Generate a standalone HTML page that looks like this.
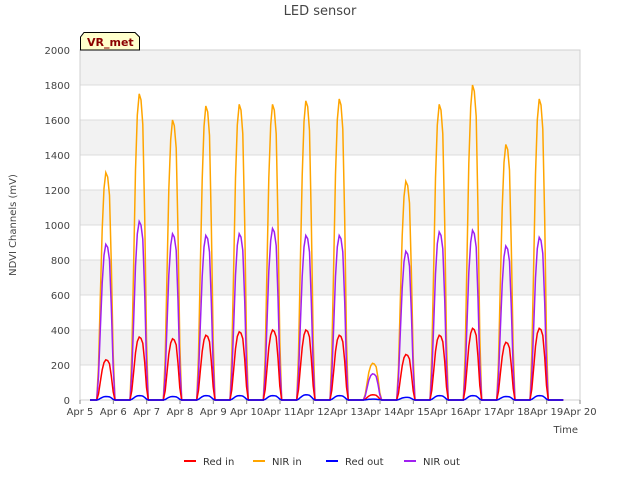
<!DOCTYPE html>
<html><head><meta charset="utf-8"><style>
body{margin:0;background:#fff;font-family:"Liberation Sans","DejaVu Sans",sans-serif}
svg text{font-family:"DejaVu Sans","Liberation Sans",sans-serif}
</style></head><body>
<svg id="c" width="640" height="480" xmlns="http://www.w3.org/2000/svg">
<text x="320" y="15" text-anchor="middle" font-size="13" fill="#444">LED sensor</text>
<g id="bands"></g><g id="grid"></g><g id="series"></g><g id="axes"></g>
<g>
<path d="M80.5,50 L80.5,37 L84,32.5 L135,32.5 L139.5,37 L139.5,50 Z" fill="#ffffcc" stroke="#000"/>
<text x="87" y="46" font-size="11" font-weight="bold" fill="#8b0000">VR_met</text></g>
<text x="16" y="225" font-size="10" fill="#444" text-anchor="middle" transform="rotate(-90 16 225)">NDVI Channels (mV)</text>
<text x="578" y="433" font-size="10" fill="#444" text-anchor="end">Time</text>
<g id="legend"></g>
</svg>
<script>
const days=[5,6,7,8,9,10,11,12,13,14,15,16,17,18];
const nirIn=[1300,1750,1600,1680,1690,1690,1710,1720,210,1250,1690,1800,1460,1720];
const redIn=[230,360,350,370,390,400,400,370,30,260,370,410,330,410];
const redOut=[20,25,20,25,25,25,30,25,5,15,25,25,20,25];
const nirOut=[890,1020,950,940,950,980,940,940,150,850,960,970,880,930];
const profile=[0,0.15,0.45,0.75,0.93,1,0.98,0.9,0.6,0.2,0];
const yTicks=[0,200,400,600,800,1000,1200,1400,1600,1800,2000];
const xTicks=["Apr 5","Apr 6","Apr 7","Apr 8","Apr 9","Apr 10","Apr 11","Apr 12","Apr 13","Apr 14","Apr 15","Apr 16","Apr 17","Apr 18","Apr 19","Apr 20"];
const NS="http://www.w3.org/2000/svg";
const X0=80,X1=580,Y0=400,Y1=50;
const xs=d=>X0+(d-5)/15*(X1-X0);
const ys=v=>Y0-v/2000*(Y0-Y1);
function mk(t,a,p){const e=document.createElementNS(NS,t);for(const k in a)e.setAttribute(k,a[k]);p.appendChild(e);return e;}
const bands=document.getElementById('bands'),grid=document.getElementById('grid'),axes=document.getElementById('axes'),ser=document.getElementById('series');
mk('rect',{x:X0,y:Y1,width:X1-X0,height:Y0-Y1,fill:'#fff'},bands);
for(let i=1;i<yTicks.length;i+=2){const r=mk('rect',{x:X0,y:ys(yTicks[i+1]===undefined?yTicks[i]:yTicks[i+1]),width:X1-X0,height:ys(yTicks[i])-ys(yTicks[i+1]),fill:'#f2f2f2'},bands);

}
yTicks.forEach(v=>{const l=mk('line',{x1:X0,x2:X1,y1:ys(v),y2:ys(v),stroke:'#dcdcdc'},grid);


const t=mk('text',{x:X0-10,y:ys(v)+4,'text-anchor':'end','font-size':10,fill:'#444'},axes);t.textContent=v;

});
mk('rect',{x:X0,y:Y1,width:X1-X0,height:Y0-Y1,fill:'none',stroke:'#d0d0d0'},grid);
xTicks.forEach((s,i)=>{const x=xs(5+i);mk('line',{x1:x,x2:x,y1:Y0,y2:Y0+4,stroke:'#888'},axes);
const t=mk('text',{x:x,y:Y0+15,'text-anchor':'middle','font-size':10,fill:'#444'},axes);t.textContent=s;

});
function draw(vals,color,name){let d='M'+xs(5.3)+','+ys(0);
days.forEach((day,i)=>{profile.forEach((p,j)=>{const t=day+0.5+j*0.55/(profile.length-1);d+=' L'+xs(t).toFixed(1)+','+ys(vals[i]*p).toFixed(1);});});
d+=' L'+xs(19.5)+','+ys(0);
const p=mk('path',{d:d,fill:'none',stroke:color,'stroke-width':1.5},ser);

}
draw(nirIn,'#ffa500','nir-in-line');draw(nirOut,'#a020f0','nir-out-line');draw(redIn,'#ff0000','red-in-line');draw(redOut,'#0000ff','red-out-line');
const leg=document.getElementById('legend');
[['Red in','#ff0000',184],['NIR in','#ffa500',253],['Red out','#0000ff',326],['NIR out','#a020f0',404]].forEach(([n,c,x])=>{
const g=mk('g',{},leg);


mk('line',{x1:x,x2:x+12,y1:461,y2:461,stroke:c,'stroke-width':2},g);
const t=mk('text',{x:x+19,y:465,'font-size':10,fill:'#333'},g);t.textContent=n;});
</script>
</body></html>
